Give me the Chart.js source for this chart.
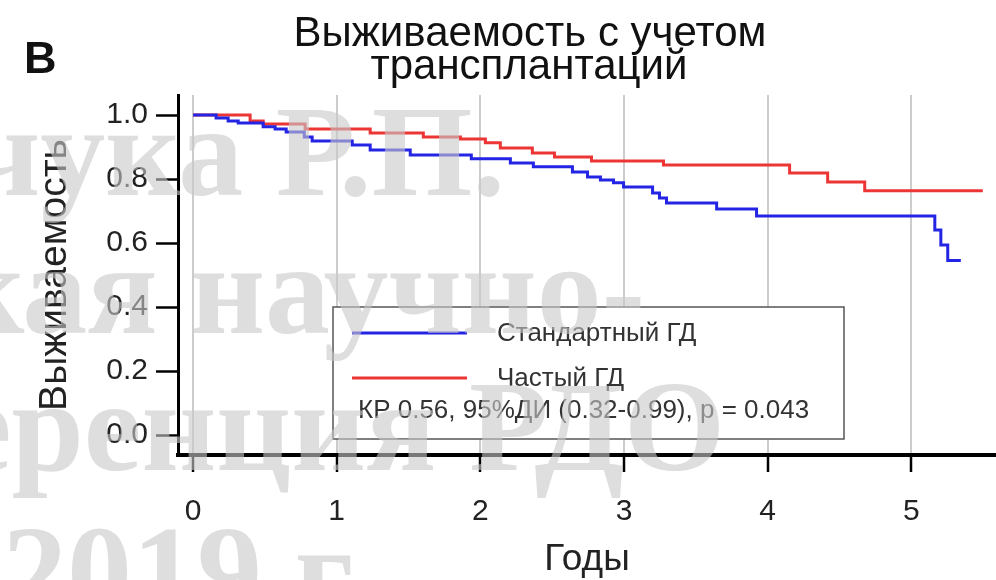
<!DOCTYPE html>
<html><head><meta charset="utf-8">
<script src="https://cdn.jsdelivr.net/npm/chart.js@4/dist/chart.umd.min.js"></script>
<style>html,body{margin:0;padding:0;background:#fff;}#wrap{position:relative;width:996px;height:580px;}</style>
</head><body><div id="wrap"><canvas id="c" width="996" height="580"></canvas></div>
<script>
// ---- data ----
const standardTimes    = [0, 0.160, 0.244, 0.314, 0.488, 0.571, 0.648, 0.774, 0.829, 1.108, 1.233, 1.512, 1.937, 2.209, 2.369, 2.641, 2.746, 2.836, 2.927, 2.997, 3.199, 3.247, 3.296, 3.645, 3.923, 5.164, 5.206, 5.254, 5.345];
const standardSurvival = [1.0, 0.991, 0.981, 0.975, 0.963, 0.956, 0.947, 0.931, 0.919, 0.906, 0.891, 0.875, 0.863, 0.850, 0.838, 0.822, 0.806, 0.797, 0.788, 0.775, 0.756, 0.741, 0.725, 0.706, 0.684, 0.641, 0.594, 0.545, 0.545];
const frequentTimes    = [0, 0.397, 0.488, 0.780, 1.233, 1.603, 1.861, 2.035, 2.139, 2.362, 2.516, 2.774, 3.275, 4.153, 4.418, 4.676, 5.498];
const frequentSurvival = [1.0, 0.981, 0.972, 0.956, 0.944, 0.931, 0.925, 0.913, 0.897, 0.881, 0.869, 0.856, 0.844, 0.819, 0.791, 0.763, 0.763];
const seriesNames = ['Стандартный ГД', 'Частый ГД'];
const xTickValues = [0, 1, 2, 3, 4, 5];
const xTickLabels = ['0', '1', '2', '3', '4', '5'];
const yTickValues = [0, 0.2, 0.4, 0.6, 0.8, 1.0];
const yTickLabels = ['0.0', '0.2', '0.4', '0.6', '0.8', '1.0'];
const titleLines = ['Выживаемость с учетом', 'трансплантаций'];
const panelLabel = 'B';
const xAxisTitle = 'Годы';
const yAxisTitle = 'Выживаемость';
const statsText = 'КР 0.56, 95%ДИ (0.32-0.99), p = 0.043';
const watermarkLines = ['чука Р.П.', 'кая научно-', 'еренция РДО', '2019 г.'];

const BLUE = '#2424e4', RED = '#ec3535';
const SANS = '"Liberation Sans", Arial, sans-serif';

const overlay = {
  id: 'overlay',
  afterDatasetsDraw(chart) {
    const ctx = chart.ctx;
    ctx.save();
    // legend box
    ctx.fillStyle = '#fff';
    ctx.fillRect(333, 307, 511, 132);
    ctx.strokeStyle = '#555';
    ctx.lineWidth = 1.5;
    ctx.strokeRect(333, 307, 511, 132);
    const colors = [BLUE, RED];
    const rowsY = [333, 378];
    ctx.lineWidth = 3;
    seriesNames.forEach((n, i) => {
      ctx.strokeStyle = colors[i];
      ctx.beginPath(); ctx.moveTo(352, rowsY[i]); ctx.lineTo(467, rowsY[i]); ctx.stroke();
      ctx.fillStyle = '#333';
      ctx.font = '26px ' + SANS;
      ctx.textBaseline = 'middle';
      ctx.textAlign = 'left';
      ctx.fillText(n, 497, rowsY[i] + 1);
    });
    ctx.font = '26px ' + SANS;
    ctx.fillText(statsText, 358, 411);
    ctx.restore();
  },
  afterDraw(chart) {
    const ctx = chart.ctx;
    ctx.save();
    ctx.fillStyle = '#111';
    ctx.textAlign = 'center';
    ctx.textBaseline = 'alphabetic';
    ctx.font = '42px ' + SANS;
    ctx.fillText(titleLines[0], 530, 46);
    ctx.fillText(titleLines[1], 529, 79);
    ctx.textAlign = 'left';
    ctx.font = 'bold 45px ' + SANS;
    ctx.fillText(panelLabel, 24, 73);
    // watermark overlay
    ctx.fillStyle = 'rgba(200,200,200,0.6)';
    ctx.font = 'bold 130px "Liberation Serif", serif';
    ctx.textAlign = 'right';
    ctx.fillText(watermarkLines[0], 505, 195);
    ctx.fillText(watermarkLines[1], 645, 333);
    ctx.fillText(watermarkLines[2], 725, 470);
    ctx.textAlign = 'left';
    ctx.fillText(watermarkLines[3], 2, 615);
    ctx.restore();
  }
};

new Chart(document.getElementById('c'), {
  type: 'line',
  data: {
    datasets: [
      { label: seriesNames[0], data: standardTimes.map((t, i) => ({ x: t, y: standardSurvival[i] })),
        borderColor: BLUE, borderWidth: 3, stepped: 'before', pointRadius: 0, fill: false },
      { label: seriesNames[1], data: frequentTimes.map((t, i) => ({ x: t, y: frequentSurvival[i] })),
        borderColor: RED, borderWidth: 3, stepped: 'before', pointRadius: 0, fill: false }
    ]
  },
  options: {
    responsive: false, animation: false, devicePixelRatio: 1,
    layout: { padding: { top: 95, left: 0, right: 0, bottom: 0 } },
    plugins: { legend: { display: false }, tooltip: { enabled: false }, title: { display: false } },
    scales: {
      x: {
        type: 'linear', min: -0.105, max: 5.59,
        afterBuildTicks: s => { s.ticks = xTickValues.map(v => ({ value: v })); },
        afterFit: s => { s.height = 125; },
        grid: { color: '#cccccc', lineWidth: 2, tickColor: '#000', tickWidth: 2.5, tickLength: 17 },
        border: { color: '#000', width: 4 },
        ticks: { font: { family: SANS, size: 30 }, color: '#222', padding: 22, maxRotation: 0,
                 callback: (v, i) => xTickLabels[i] },
        title: { display: true, text: xAxisTitle, font: { family: SANS, size: 37, lineHeight: 1 }, color: '#222', padding: { top: 0, bottom: 2 } }
      },
      y: {
        min: -0.0625, max: 1.0625,
        afterBuildTicks: s => { s.ticks = yTickValues.map(v => ({ value: v })); },
        afterFit: s => { s.width = 178; },
        grid: { drawOnChartArea: false, tickColor: '#000', tickWidth: 2.5, tickLength: 22 },
        border: { color: '#000', width: 3 },
        ticks: { font: { family: SANS, size: 30 }, color: '#222', padding: 8,
                 callback: (v, i) => yTickLabels[i] },
        title: { display: true, text: yAxisTitle, font: { family: SANS, size: 39, lineHeight: 1 }, color: '#222', padding: { top: 36, bottom: 0 } }
      }
    }
  },
  plugins: [overlay]
});
</script></body></html>
